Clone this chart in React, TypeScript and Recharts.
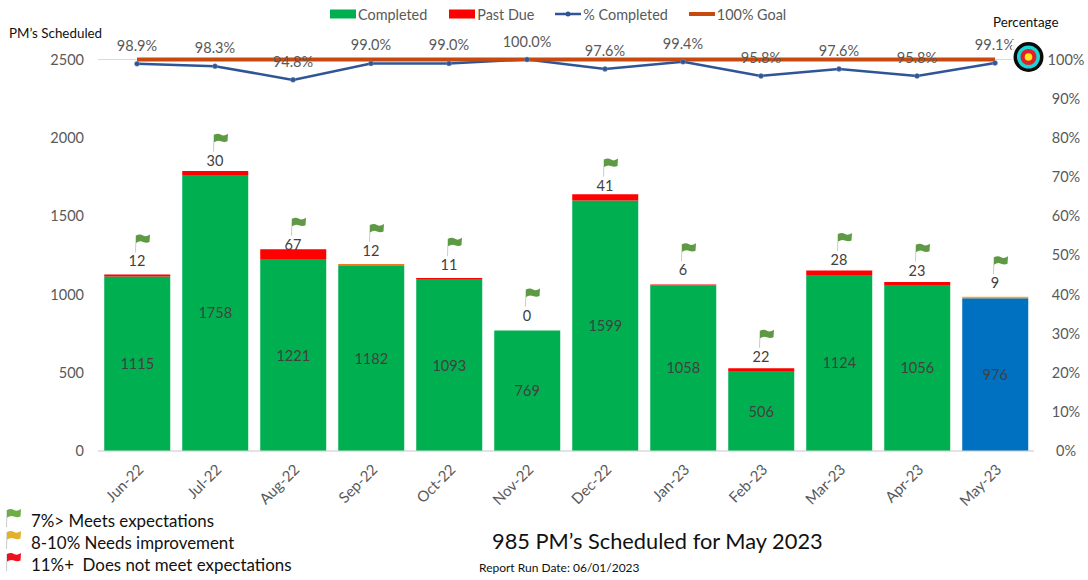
import React from "react";
import { ComposedChart, Bar, Line, XAxis, YAxis, CartesianGrid, Cell, LabelList, Legend } from "recharts";

const months = ["Jun-22","Jul-22","Aug-22","Sep-22","Oct-22","Nov-22","Dec-22","Jan-23","Feb-23","Mar-23","Apr-23","May-23"];
const completed = [1115,1758,1221,1182,1093,769,1599,1058,506,1124,1056,976];
const pastDue = [12,30,67,12,11,0,41,6,22,28,23,9];
const pctCompleted = [98.9,98.3,94.8,99.0,99.0,100.0,97.6,99.4,95.8,97.6,95.8,99.1];
const goal = [100,100,100,100,100,100,100,100,100,100,100,100];
const completedColors = ["#00B050","#00B050","#00B050","#00B050","#00B050","#00B050","#00B050","#00B050","#00B050","#00B050","#00B050","#0070C0"];
const pastDueColors = ["#FF0000","#FF0000","#FF0000","#F07A20","#FF0000","#FF0000","#FF0000","#FF0000","#FF0000","#FF0000","#FF0000","#FFA51F"];
const leftTicks = [0,500,1000,1500,2000,2500];
const rightTicks = [0,10,20,30,40,50,60,70,80,90,100];
const keyItems = [
  { color: "#70AD47", text: "7%> Meets expectations" },
  { color: "#E3B027", text: "8-10% Needs improvement" },
  { color: "#F00F1E", text: "11%+  Does not meet expectations" },
];
const legendItems = [
  { label: "Completed", kind: "box", color: "#00B050", gap: 0 },
  { label: "Past Due", kind: "box", color: "#FF0000", gap: 22 },
  { label: "% Completed", kind: "line", color: "#2F5597", gap: 21 },
  { label: "100% Goal", kind: "goal", color: "#C8490F", gap: 21 },
];

const rows = months.map((month, i) => ({
  month,
  completed: completed[i],
  pastDue: pastDue[i],
  pct: pctCompleted[i],
  goal: goal[i],
}));

const FONT = "Lato, 'Open Sans', sans-serif";
const GREY = "#595959";

function Flag({ x, y, color }: { x: number; y: number; color: string }) {
  return (
    <g>
      <line x1={x} y1={y - 3} x2={x - 0.5} y2={y + 14} stroke="#C9CCC6" strokeWidth={1} />
      <path
        d={`M${x} ${y - 3} q4 -2 7 0 t7 -1 l-0.5 7.5 q-3 1.5 -6.5 0 t-7 1 z`}
        fill={color}
      />
    </g>
  );
}

function PastDueMark(props: any) {
  const { x, y, value } = props;
  const flagY = y - 38;
  return (
    <g>
      <rect x={x - 5} y={flagY - 7} width={26} height={24} fill="#fff" fillOpacity={0.9} />
      <Flag x={x - 1} y={flagY} color="#5E9A44" />
      <text x={x} y={y - 15} dy={5} textAnchor="middle" fontSize={14.5} fontFamily={FONT} fill="#404040">
        {value}
      </text>
    </g>
  );
}

function TopLegend() {
  return (
    <div style={{ display: "flex", alignItems: "center", fontFamily: FONT, fontSize: 14.4, color: GREY, paddingLeft: 330, height: 28 }}>
      {legendItems.map((it) => (
        <div key={it.label} style={{ display: "flex", alignItems: "center", marginLeft: it.gap }}>
          <svg width={26} height={10} style={{ marginRight: 2 }}>
            {it.kind === "box" && <rect x={0} y={0.5} width={26} height={9} fill={it.color} />}
            {it.kind === "line" && (
              <g>
                <line x1={0} y1={5} x2={26} y2={5} stroke={it.color} strokeWidth={2.5} />
                <circle cx={13} cy={5} r={2.5} fill={it.color} />
              </g>
            )}
            {it.kind === "goal" && <line x1={0} y1={5} x2={26} y2={5} stroke={it.color} strokeWidth={4} />}
          </svg>
          <span>{it.label}</span>
        </div>
      ))}
    </div>
  );
}

const abs = (left: number, top: number, extra: React.CSSProperties = {}): React.CSSProperties => ({
  position: "absolute",
  left,
  top,
  fontFamily: FONT,
  whiteSpace: "pre",
  lineHeight: 1,
  ...extra,
});

export default function App() {
  return (
    <div style={{ position: "absolute", left: 0, top: 0, width: 1088, height: 580, background: "#fff", overflow: "hidden" }}>
      <ComposedChart
        width={1088}
        height={580}
        data={rows}
        margin={{ top: 31.5, right: 0, bottom: 0, left: 0 }}
        barCategoryGap="8%"
      >
        <Legend verticalAlign="top" align="left" height={28} wrapperStyle={{ top: 0, left: 0 }} content={<TopLegend />} />
        <CartesianGrid horizontal vertical={false} stroke="#D9D9D9" />
        <XAxis
          dataKey="month"
          interval={0}
          angle={-45}
          textAnchor="end"
          height={129}
          tick={{ fontSize: 15, fill: GREY, fontFamily: FONT }}
          tickLine={false}
          axisLine={{ stroke: "#D9D9D9" }}
          tickMargin={6}
        />
        <YAxis
          yAxisId="left"
          width={98}
          domain={[0, 2500]}
          ticks={leftTicks}
          interval={0}
          tick={{ fontSize: 14.5, fill: GREY, fontFamily: FONT }}
          tickLine={false}
          axisLine={false}
          tickMargin={8}
        />
        <YAxis
          yAxisId="right"
          orientation="right"
          width={54}
          domain={[0, 100]}
          ticks={rightTicks}
          interval={0}
          tickFormatter={(v: number) => `${v}%`}
          tick={{ fontSize: 14.5, fill: GREY, fontFamily: FONT, textAnchor: "middle" }}
          tickLine={false}
          axisLine={false}
          tickMargin={26}
        />
        <Bar yAxisId="left" dataKey="completed" stackId="pm" isAnimationActive={false}>
          {rows.map((r, i) => (
            <Cell key={r.month} fill={completedColors[i]} />
          ))}
          <LabelList dataKey="completed" position="center" fontSize={14.5} fontFamily={FONT} fill="#404040" />
        </Bar>
        <Bar yAxisId="left" dataKey="pastDue" stackId="pm" isAnimationActive={false}>
          {rows.map((r, i) => (
            <Cell key={r.month} fill={pastDueColors[i]} />
          ))}
        </Bar>
        <Line yAxisId="left" dataKey="completed" stroke="none" dot={false} isAnimationActive={false} legendType="none">
          <LabelList dataKey="pastDue" content={<PastDueMark />} />
        </Line>
        <Line
          yAxisId="right"
          dataKey="pct"
          stroke="#2F5597"
          strokeWidth={2.5}
          dot={{ r: 2.5, fill: "#2F5597", stroke: "#8497B0", strokeWidth: 0.5 }}
          isAnimationActive={false}
        />
        <Line yAxisId="right" dataKey="goal" stroke="#C8490F" strokeWidth={4} dot={false} isAnimationActive={false} />
        <Line yAxisId="right" dataKey="pct" stroke="none" dot={false} isAnimationActive={false} legendType="none">
          <LabelList
            dataKey="pct"
            position="top"
            offset={13}
            fontSize={14.5}
            fontFamily={FONT}
            fill={GREY}
            formatter={(v: number) => `${v.toFixed(1)}%`}
          />
        </Line>
      </ComposedChart>

      <div style={abs(9, 27, { fontSize: 13.4, color: "#111" })}>PM’s Scheduled</div>
      <div style={abs(993, 16, { fontSize: 13.4, color: "#111" })}>Percentage</div>
      <svg width={34} height={34} style={{ position: "absolute", left: 1012, top: 40 }}>
        <rect x={0} y={0} width={34} height={34} fill="#fff" opacity={0.85} />
        <circle cx={16.5} cy={17} r={15} fill="#0A0A0A" />
        <circle cx={16.5} cy={17} r={11.5} fill="#1BD6D6" />
        <circle cx={16.5} cy={17} r={8} fill="#E0202A" />
        <circle cx={16.5} cy={17} r={3.8} fill="#FFE81A" />
      </svg>

      {keyItems.map((k, i) => (
        <React.Fragment key={k.text}>
          <svg width={24} height={22} style={{ position: "absolute", left: 3, top: 509 + i * 22 }}>
            <Flag x={4} y={4} color={k.color} />
          </svg>
          <div style={abs(31, 513 + i * 22, { fontSize: 16.9, color: "#111" })}>{k.text}</div>
        </React.Fragment>
      ))}
      <div style={abs(492, 530, { fontSize: 21.8, color: "#111" })}>985 PM’s Scheduled for May 2023</div>
      <div style={abs(479, 562, { fontSize: 12, color: "#111" })}>Report Run Date: 06/01/2023</div>
    </div>
  );
}
